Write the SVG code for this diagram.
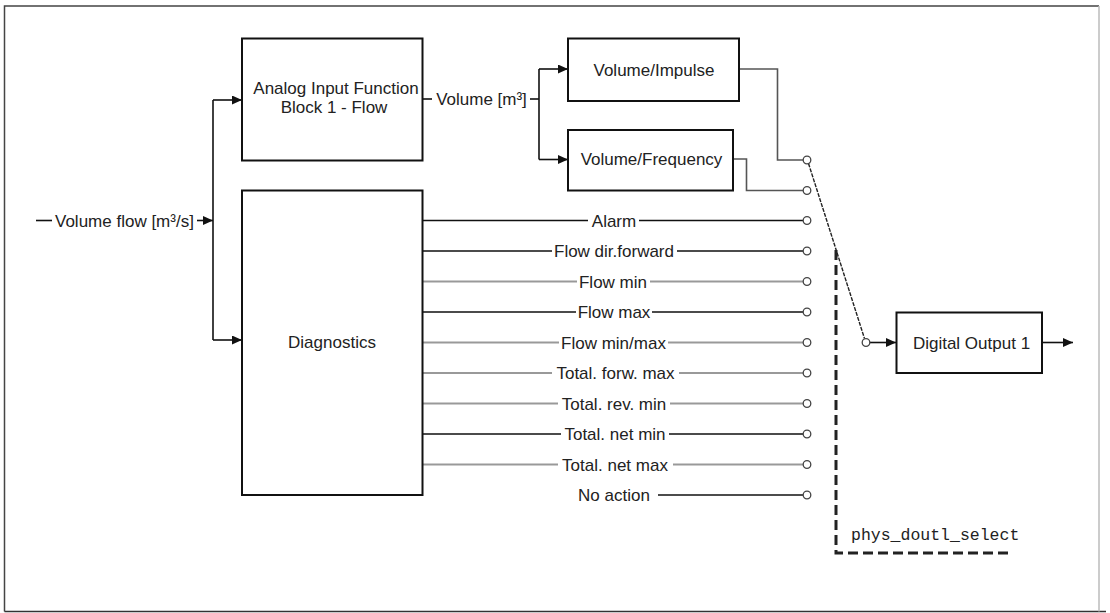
<svg xmlns="http://www.w3.org/2000/svg" width="1110" height="613" viewBox="0 0 1110 613">
<style>
.box{fill:#fff;stroke:#111;stroke-width:2}
.t{font-family:"Liberation Sans",Arial,sans-serif;font-size:17px;fill:#222}
.c{text-anchor:middle}
.k{fill:none;stroke:#111;stroke-width:1.6}
.g{fill:none;stroke:#999;stroke-width:1.8}
.d{fill:none;stroke:#555;stroke-width:1.6}
.arr{marker-end:url(#ah)}
.sw{fill:#fff;stroke:#444;stroke-width:1.3}
.mono{font-family:"Liberation Mono","Courier New",monospace;font-size:16.5px;fill:#222}
</style>
<defs>
<marker id="ah" markerUnits="userSpaceOnUse" markerWidth="11" markerHeight="9" refX="10" refY="4.5" orient="auto">
<path d="M0,0 L10,4.5 L0,9 z" fill="#111"/>
</marker>
</defs>
<rect x="0" y="0" width="1110" height="613" fill="#fff"/>
<g id="frame">
<path d="M4.5,611.5 V6 H1099" fill="none" stroke="#444" stroke-width="1.5"/>
<path d="M4.5,611.5 H1106" fill="none" stroke="#333" stroke-width="1.5"/>
<path d="M1099,6 V611.5" fill="none" stroke="#bbb" stroke-width="1.5"/>
</g>
<g id="connectors">
<path class="k" d="M36,220.5 H52"/>
<path class="k arr" d="M197,220.5 H213"/>
<path class="k" d="M213,100 V340"/>
<path class="k arr" d="M213,100 H242"/>
<path class="k arr" d="M213,340 H242"/>
<path class="k" d="M423,99 H432"/>
<path class="k" d="M530,99 H539"/>
<path class="k" d="M539,69 V159.5"/>
<path class="k arr" d="M539,69 H568"/>
<path class="k arr" d="M539,159.5 H568"/>
<path class="d" d="M739,69 H777.5 V160 H803"/>
<path class="d" d="M733,159 H746.5 V190.5 H803"/>
<path class="k" d="M423,220.5 H588 M639,220.5 H803"/>
<path class="k" d="M423,251 H552 M677,251 H803"/>
<path class="g" d="M423,281.5 H577 M650,281.5 H803"/>
<path class="k" d="M423,312 H576 M652,312 H803"/>
<path class="g" d="M423,342.5 H559 M668,342.5 H803"/>
<path class="g" d="M423,373 H552 M679,373 H803"/>
<path class="g" d="M423,403.5 H558 M670,403.5 H803"/>
<path class="k" d="M423,434 H561 M669,434 H803"/>
<path class="g" d="M423,464.5 H558 M673,464.5 H803"/>
<path class="k" d="M658,495 H803"/>
<path d="M808.5,163.5 L864.5,338.5" fill="none" stroke="#222" stroke-width="1.4" stroke-dasharray="4,1.2"/>
<path class="k arr" d="M870,342.5 H896"/>
<path class="k arr" d="M1042,342.5 H1073"/>
<path d="M836,250 V553 H1012" fill="none" stroke="#222" stroke-width="3" stroke-dasharray="10,5"/>
</g>
<g id="labels">
<text class="t" x="55" y="226.5">Volume flow [m³/s]</text>
<text class="t c" x="481.5" y="105">Volume [m³]</text>
<text class="t c" x="614" y="226.5">Alarm</text>
<text class="t c" x="614" y="257">Flow dir.forward</text>
<text class="t c" x="613" y="287.5">Flow min</text>
<text class="t c" x="614" y="318">Flow max</text>
<text class="t c" x="613.5" y="348.5">Flow min/max</text>
<text class="t c" x="615.5" y="379">Total. forw. max</text>
<text class="t c" x="614" y="409.5">Total. rev. min</text>
<text class="t c" x="615" y="440">Total. net min</text>
<text class="t c" x="615" y="470.5">Total. net max</text>
<text class="t c" x="614" y="501">No action</text>
<text class="mono" x="851" y="540">phys_doutl_select</text>
</g>
<g id="switch-contacts">
<circle class="sw" cx="807" cy="160" r="3.8"/>
<circle class="sw" cx="807" cy="190.5" r="3.8"/>
<circle class="sw" cx="807" cy="220.5" r="3.8"/>
<circle class="sw" cx="807" cy="251" r="3.8"/>
<circle class="sw" cx="807" cy="281.5" r="3.8"/>
<circle class="sw" cx="807" cy="312" r="3.8"/>
<circle class="sw" cx="807" cy="342.5" r="3.8"/>
<circle class="sw" cx="807" cy="373" r="3.8"/>
<circle class="sw" cx="807" cy="403.5" r="3.8"/>
<circle class="sw" cx="807" cy="434" r="3.8"/>
<circle class="sw" cx="807" cy="464.5" r="3.8"/>
<circle class="sw" cx="807" cy="495" r="3.8"/>
<circle class="sw" cx="866" cy="342.5" r="3.8"/>
</g>
<g id="ai-block">
<rect class="box" x="242" y="38.5" width="180.5" height="122"/>
<text class="t c" x="336" y="94">Analog Input Function</text>
<text class="t c" x="334" y="113">Block 1 - Flow</text>
</g>
<g id="diagnostics">
<rect class="box" x="242" y="190.5" width="180.5" height="304.5"/>
<text class="t c" x="332" y="347.5">Diagnostics</text>
</g>
<g id="volume-impulse">
<rect class="box" x="568" y="38.5" width="171" height="62.5"/>
<text class="t c" x="654" y="76">Volume/Impulse</text>
</g>
<g id="volume-frequency">
<rect class="box" x="568" y="130" width="165" height="60.5"/>
<text class="t c" x="651.5" y="165">Volume/Frequency</text>
</g>
<g id="digital-output">
<rect class="box" x="896.5" y="312.5" width="145.5" height="60.5"/>
<text class="t c" x="971.5" y="348.5">Digital Output 1</text>
</g>
</svg>
